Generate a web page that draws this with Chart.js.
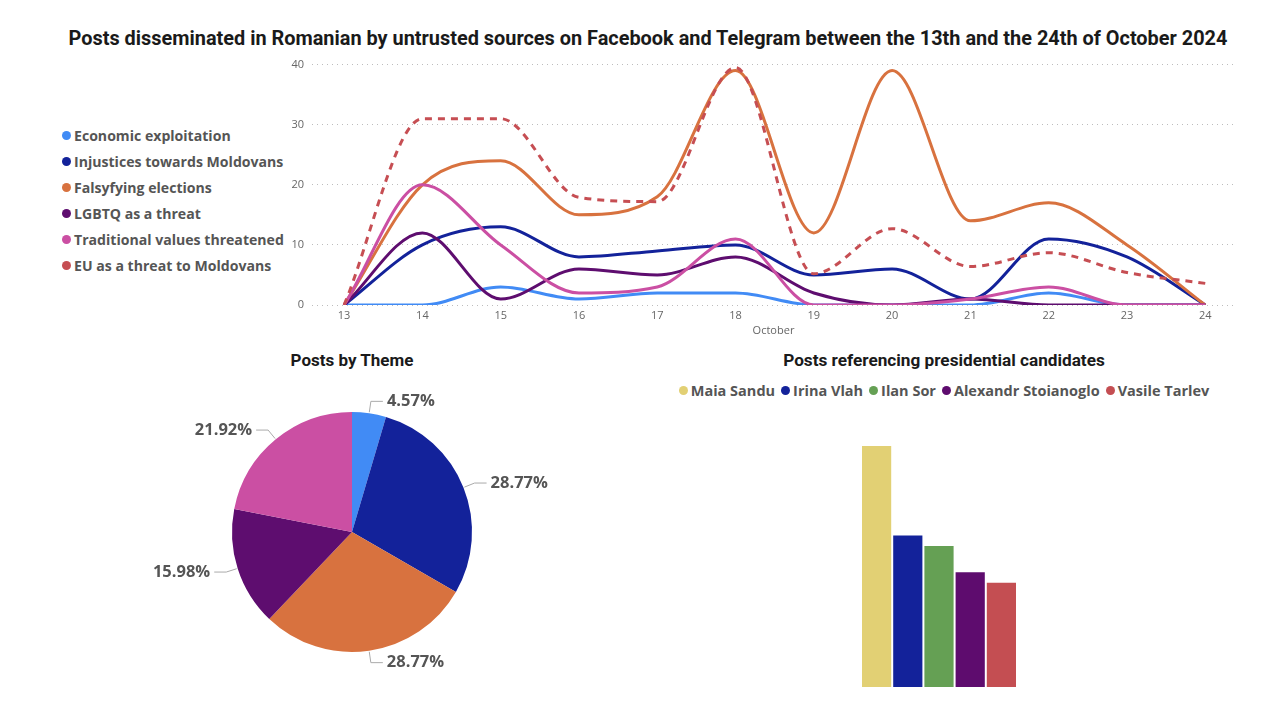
<!DOCTYPE html>
<html>
<head>
<meta charset="utf-8">
<script src="https://cdn.jsdelivr.net/npm/chart.js@4.4.1/dist/chart.umd.min.js"></script>
<style>
  body { margin: 0; background: #fff; width: 1266px; height: 718px; position: relative; overflow: hidden; font-family: "Open Sans", sans-serif; }
  .title { position: absolute; font-family: Roboto, sans-serif; font-weight: 700; color: #1a1a1a; text-align: center; white-space: nowrap; }
  .legend { position: absolute; font-weight: 700; color: #555; font-size: 14.5px; }
  .legend .it { display: flex; align-items: center; white-space: nowrap; }
  .legend .dot { width: 9px; height: 9px; border-radius: 50%; margin-right: 3px; flex: none; }
  canvas { position: absolute; }
</style>
</head>
<body>
<div class="title" style="left:15px; top:27px; width:1266px; font-size:19.9px;">Posts disseminated in Romanian by untrusted sources on Facebook and Telegram between the 13th and the 24th of October 2024</div>
<div id="lineLegend" class="legend" style="left:62px; top:122px; font-size:14.1px;"></div>
<div style="position:absolute; left:280px; top:50px; width:960px; height:300px;"><canvas id="line"></canvas></div>

<div class="title" style="left:202px; top:350px; width:300px; font-size:17px;">Posts by Theme</div>
<div style="position:absolute; left:100px; top:380px; width:500px; height:310px;"><canvas id="pie"></canvas></div>

<div class="title" style="left:694px; top:350px; width:500px; font-size:17.2px;">Posts referencing presidential candidates</div>
<div id="barLegend" class="legend" style="left:660px; top:381px; width:568px; display:flex; justify-content:center; gap:6px;"></div>
<div style="position:absolute; left:660px; top:424px; width:558px; height:263px;"><canvas id="bar"></canvas></div>

<script>
var days = [13, 14, 15, 16, 17, 18, 19, 20, 21, 22, 23, 24];
var themes = ["Economic exploitation", "Injustices towards Moldovans", "Falsyfying elections", "LGBTQ as a threat", "Traditional values threatened", "EU as a threat to Moldovans"];
var themeColors = ["#418bf5", "#13229a", "#d8723f", "#5e0d6f", "#cb4fa3", "#c64e53"];
var economic = [0, 0, 3, 1, 2, 2, 0, 0, 0, 2, 0, 0];
var injustices = [0, 10, 13, 8, 9, 10, 5, 6, 1, 11, 8, 0];
var falsifying = [0, 20, 24, 15, 18, 39, 12, 39, 14, 17, 10, 0];
var lgbtq = [0, 12, 1, 6, 5, 8, 2, 0, 1, 0, 0, 0];
var traditional = [0, 20, 10, 2, 3, 11, 0, 0, 1, 3, 0, 0];
var euThreat = [0, 31, 31, 17.9, 17.2, 39.5, 5.2, 12.7, 6.4, 8.7, 5.4, 3.6];
var yTicks = [0, 10, 20, 30, 40];

var pieLabels = ["Economic exploitation", "Injustices towards Moldovans", "Falsyfying elections", "LGBTQ as a threat", "Traditional values threatened"];
var pieShares = [4.57, 28.77, 28.77, 15.98, 21.92];

var candidates = ["Maia Sandu", "Irina Vlah", "Ilan Sor", "Alexandr Stoianoglo", "Vasile Tarlev"];
var candidateColors = ["#e2d074", "#13229a", "#65a054", "#5e0c6e", "#c44e52"];
var candidatePosts = [46, 29, 27, 22, 20];

function makeLegend(id, names, colors) {
  var el = document.getElementById(id);
  names.forEach(function (n, i) {
    var it = document.createElement("div");
    it.className = "it";
    it.innerHTML = '<span class="dot" style="background:' + colors[i] + '"></span>' + n;
    el.appendChild(it);
  });
}
makeLegend("lineLegend", themes, themeColors);
document.querySelectorAll("#lineLegend .it").forEach(function (e) { e.style.height = "26px"; });
makeLegend("barLegend", candidates, candidateColors);

var series = [economic, injustices, falsifying, lgbtq, traditional, euThreat];
var lineSets = series.map(function (s, i) {
  return {
    label: themes[i],
    data: s.map(function (v, k) { return { x: days[k], y: v }; }),
    borderColor: themeColors[i],
    borderWidth: 3,
    borderDash: i === 5 ? [7, 6] : [],
    pointRadius: 0,
    cubicInterpolationMode: "monotone",
    order: i === 5 ? 0 : 6 - i,
  };
});

Chart.defaults.animation = false;
Chart.defaults.font.family = "'Open Sans', sans-serif";

new Chart(document.getElementById("line"), {
  type: "line",
  data: { datasets: lineSets },
  options: {
    responsive: true,
    maintainAspectRatio: false,
    layout: { padding: { top: 12, right: 5, bottom: 5, left: 0 } },
    plugins: { legend: { display: false }, tooltip: { enabled: false } },
    scales: {
      x: {
        type: "linear",
        min: 12.59,
        max: 24.38,
        afterFit: function (s) { s.height = 40; },
        grid: { display: false, drawTicks: false },
        border: { display: false },
        ticks: { stepSize: 1, includeBounds: false, padding: 4, color: "#666", font: { size: 11 } },
        title: { display: true, text: "October", color: "#666", font: { size: 11 }, padding: { top: 0, bottom: 8 } },
      },
      y: {
        min: 0,
        max: 40,
        afterFit: function (s) { s.width = 32; },
        afterBuildTicks: function (s) { s.ticks = yTicks.map(function (v) { return { value: v }; }); },
        border: { display: false, dash: [1, 4] },
        grid: { color: "#bdbdbd", lineWidth: 1, drawTicks: false },
        ticks: { padding: 8, color: "#666", font: { size: 11 } },
      },
    },
  },
});

var pieLabelPlugin = {
  id: "pieLabels",
  afterDatasetsDraw: function (chart) {
    var ctx = chart.ctx;
    var meta = chart.getDatasetMeta(0);
    ctx.save();
    ctx.font = "bold 16.5px 'Open Sans', sans-serif";
    ctx.fillStyle = "#555";
    ctx.strokeStyle = "#aaa";
    ctx.lineWidth = 1;
    meta.data.forEach(function (arc, i) {
      var a = (arc.startAngle + arc.endAngle) / 2;
      var r = arc.outerRadius;
      var c = Math.cos(a), s = Math.sin(a);
      var x1 = arc.x + c * (r + 1), y1 = arc.y + s * (r + 1);
      var x2 = arc.x + c * (r + 12), y2 = arc.y + s * (r + 12);
      var dir = c >= 0 ? 1 : -1;
      var x3 = x2 + dir * 12;
      ctx.beginPath();
      ctx.moveTo(x1, y1);
      ctx.lineTo(x2, y2);
      ctx.lineTo(x3, y2);
      ctx.stroke();
      ctx.textAlign = dir > 0 ? "left" : "right";
      ctx.textBaseline = "middle";
      ctx.fillText(pieShares[i].toFixed(2) + "%", x3 + dir * 4, y2);
    });
    ctx.restore();
  },
};

new Chart(document.getElementById("pie"), {
  type: "pie",
  data: {
    labels: pieLabels,
    datasets: [{ data: pieShares, backgroundColor: themeColors.slice(0, 5), borderWidth: 0 }],
  },
  options: {
    responsive: true,
    maintainAspectRatio: false,
    layout: { padding: { top: 32, bottom: 38, left: 4, right: 0 } },
    plugins: { legend: { display: false }, tooltip: { enabled: false } },
  },
  plugins: [pieLabelPlugin],
});

new Chart(document.getElementById("bar"), {
  type: "bar",
  data: {
    labels: [""],
    datasets: candidates.map(function (n, i) {
      return {
        label: n,
        data: [candidatePosts[i]],
        backgroundColor: candidateColors[i],
        borderColor: "rgba(255,255,255,0.35)",
        borderWidth: 1,
        categoryPercentage: 156 / 558,
        barPercentage: 1,
      };
    }),
  },
  options: {
    responsive: true,
    maintainAspectRatio: false,
    layout: { padding: 0 },
    plugins: { legend: { display: false }, tooltip: { enabled: false } },
    scales: {
      x: { display: false },
      y: { display: false, min: 0, max: 50 },
    },
  },
});
</script>
</body>
</html>
